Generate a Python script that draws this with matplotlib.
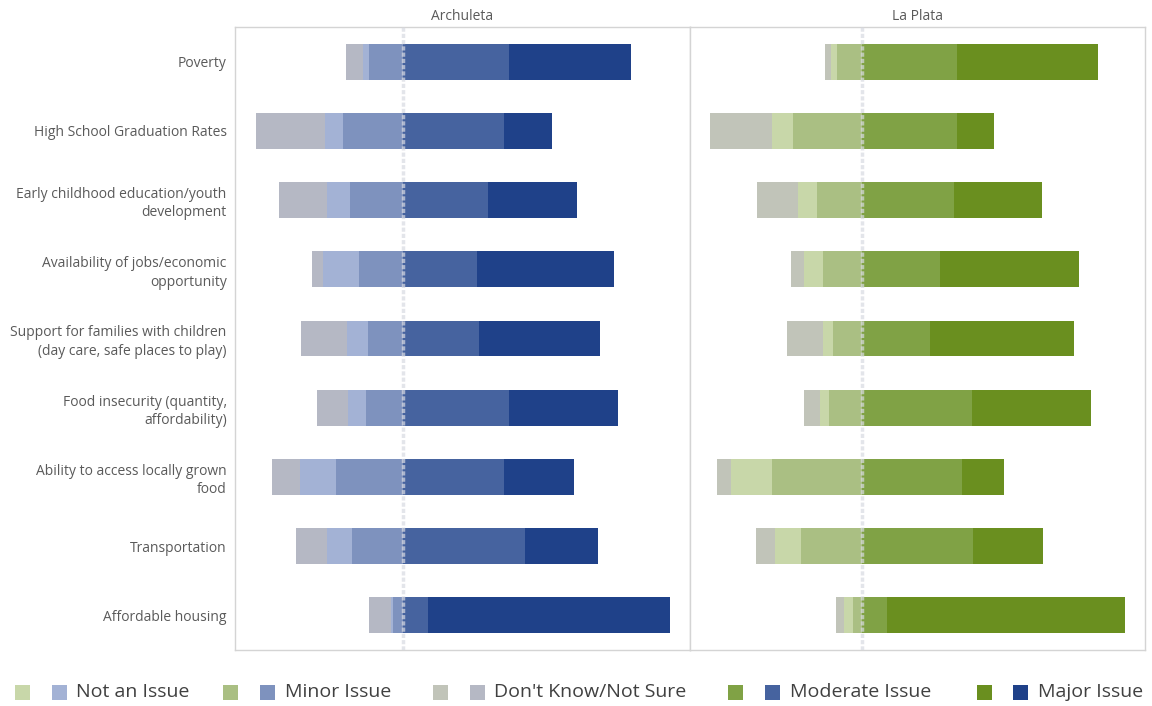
import numpy as np

import matplotlib
matplotlib.use('Agg')
import matplotlib.pyplot as plt

from matplotlib.patches import Rectangle


categories = [
    'Poverty',
    'High School Graduation Rates',
    'Early childhood education/youth\ndevelopment',
    'Availability of jobs/economic\nopportunity',
    'Support for families with children\n(day care, safe places to play)',
    'Food insecurity (quantity,\naffordability)',
    'Ability to access locally grown\nfood',
    'Transportation',
    'Affordable housing',
]

regions = ['Archuleta', 'La Plata']

# Percent of respondents per answer.
archuleta_dont_know = [6.0, 24.3, 17.0, 3.9, 16.1, 10.6, 9.7, 10.8, 7.7]
archuleta_not_issue = [2.1, 6.2, 8.2, 12.4, 7.4, 6.6, 12.6, 9.0, 1.0]
archuleta_minor = [12.0, 21.1, 18.5, 15.5, 12.3, 12.8, 23.6, 17.7, 3.3]
archuleta_moderate = [37.3, 35.7, 30.0, 26.0, 26.9, 37.3, 35.7, 43.0, 8.8]
archuleta_major = [43.0, 16.7, 31.3, 48.3, 42.6, 38.5, 24.6, 25.8, 85.1]

laplata_dont_know = [2.0, 21.5, 14.4, 4.7, 12.4, 5.6, 4.8, 6.7, 2.8]
laplata_not_issue = [2.3, 7.4, 6.5, 6.7, 3.8, 3.3, 14.4, 9.2, 3.1]
laplata_minor = [8.7, 24.4, 16.0, 13.6, 10.1, 11.5, 31.7, 21.5, 3.3]
laplata_moderate = [33.3, 33.3, 32.4, 27.5, 23.9, 38.6, 35.1, 39.0, 8.7]
laplata_major = [49.8, 13.1, 30.9, 48.9, 50.7, 41.9, 14.9, 24.6, 83.7]

legend_labels = [
    'Not an Issue', 'Minor Issue', "Don't Know/Not Sure",
    'Moderate Issue', 'Major Issue',
]

palettes = {
    'Archuleta': {
        'dont_know': '#b5b8c4', 'not_issue': '#a3b2d5', 'minor': '#7e92be',
        'moderate': '#46639f', 'major': '#1f4189',
    },
    'La Plata': {
        'dont_know': '#c1c4b9', 'not_issue': '#c8d7a9', 'minor': '#aabf83',
        'moderate': '#80a245', 'major': '#6a8f1f',
    },
}

data = {
    'Archuleta': {
        'dont_know': archuleta_dont_know, 'not_issue': archuleta_not_issue,
        'minor': archuleta_minor, 'moderate': archuleta_moderate,
        'major': archuleta_major,
    },
    'La Plata': {
        'dont_know': laplata_dont_know, 'not_issue': laplata_not_issue,
        'minor': laplata_minor, 'moderate': laplata_moderate,
        'major': laplata_major,
    },
}

x_limits = {'Archuleta': (-59.0, 101.0), 'La Plata': (-60.5, 99.5)}


def main():
    plt.rcParams['font.family'] = ['Open Sans', 'DejaVu Sans']

    fig = plt.figure(figsize=(11.52, 7.06), dpi=100)
    fig.patch.set_facecolor('white')

    text_grey = '#5a5a5a'
    border = '#d4d4d4'
    y = np.arange(len(categories))
    bar_h = 0.52

    left_edge, width = 235 / 1152, 455 / 1152
    bottom, height = 1 - 650 / 706, 623 / 706

    for k, region in enumerate(regions):
        ax = fig.add_axes([left_edge + k * width, bottom, width, height])
        vals = {key: np.array(v) for key, v in data[region].items()}
        cols = palettes[region]

        # Negative side: minor nearest the centre, then not an issue, then don't know.
        ax.barh(y, -vals['minor'], height=bar_h, color=cols['minor'], lw=0)
        ax.barh(y, -vals['not_issue'], left=-vals['minor'], height=bar_h,
                color=cols['not_issue'], lw=0)
        ax.barh(y, -vals['dont_know'], left=-(vals['minor'] + vals['not_issue']),
                height=bar_h, color=cols['dont_know'], lw=0)
        # Positive side.
        ax.barh(y, vals['moderate'], height=bar_h, color=cols['moderate'], lw=0)
        ax.barh(y, vals['major'], left=vals['moderate'], height=bar_h,
                color=cols['major'], lw=0)

        ax.axvline(0, color='#d8dae2', lw=2.5, alpha=0.7, zorder=3,
                   linestyle=(0, (1.2, 0.6)))

        ax.set_xlim(*x_limits[region])
        ax.set_ylim(len(categories) - 0.5, -0.5)
        ax.set_xticks([])
        ax.set_yticks(y)
        if k == 0:
            ax.set_yticklabels(categories, fontsize=10, color=text_grey,
                               linespacing=1.3)
        else:
            ax.set_yticklabels([])
        ax.tick_params(axis='y', length=0, pad=6)

        for spine in ax.spines.values():
            spine.set_color(border)
            spine.set_linewidth(1.0)

        ax.set_title(region, fontsize=10, color=text_grey, pad=5)

    # Legend: a green and a blue swatch before each answer label.
    swatch_green = [15, 223, 433, 728, 977]
    swatch_blue = [52, 260, 470, 765, 1013]
    text_x = [76, 285, 494, 790, 1038]
    keys = ['not_issue', 'minor', 'dont_know', 'moderate', 'major']
    sw, sh = 15 / 1152, 15 / 706
    ly = 1 - 692 / 706
    for i, key in enumerate(keys):
        for xpix, region in ((swatch_green[i], 'La Plata'),
                             (swatch_blue[i], 'Archuleta')):
            fig.add_artist(Rectangle((xpix / 1152, ly - sh / 2), sw, sh,
                                     transform=fig.transFigure,
                                     color=palettes[region][key], lw=0))
        fig.text(text_x[i] / 1152, ly, legend_labels[i], fontsize=14,
                 color='#404040', va='center', ha='left')

    fig.savefig('out.png', dpi=100, facecolor='white')


if __name__ == '__main__':
    main()
